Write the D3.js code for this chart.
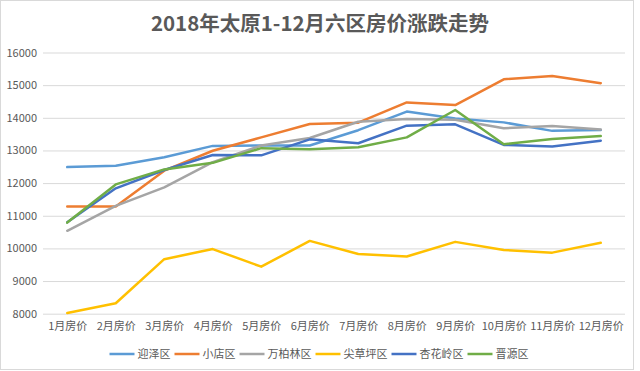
<!DOCTYPE html>
<html>
<head>
<meta charset="utf-8">
<script src="https://cdn.jsdelivr.net/npm/d3@7"></script>
<style>
  body { margin: 0; background: #fff; }
  text { font-family: "Noto Sans CJK SC", "Noto Sans", sans-serif; }
</style>
</head>
<body>
<div id="chart"></div>
<script>
// data
let months = ["1月房价", "2月房价", "3月房价", "4月房价", "5月房价", "6月房价",
              "7月房价", "8月房价", "9月房价", "10月房价", "11月房价", "12月房价"];
let districts = ["迎泽区", "小店区", "万柏林区", "尖草坪区", "杏花岭区", "晋源区"];
let yingze     = [12490, 12530, 12790, 13140, 13150, 13150, 13620, 14190, 13980, 13860, 13600, 13630];
let xiaodian   = [11280, 11280, 12380, 12990, 13400, 13810, 13850, 14470, 14390, 15180, 15280, 15060];
let wanbailin  = [10540, 11300, 11870, 12640, 13150, 13380, 13880, 13960, 13940, 13680, 13750, 13640];
let jiancaoping = [8020, 8320, 9670, 9980, 9440, 10230, 9830, 9750, 10200, 9950, 9870, 10170];
let xinghualing = [10800, 11840, 12400, 12860, 12850, 13340, 13220, 13760, 13800, 13170, 13120, 13300];
let jinyuan    = [10790, 11960, 12420, 12620, 13070, 13040, 13100, 13400, 14240, 13190, 13350, 13440];
let yTicks = [8000, 9000, 10000, 11000, 12000, 13000, 14000, 15000, 16000];

let seriesValues = [yingze, xiaodian, wanbailin, jiancaoping, xinghualing, jinyuan];
let color = ["#5B9BD5", "#ED7D31", "#A5A5A5", "#FFC000", "#4472C4", "#70AD47"];

let W = 640, H = 371;
let margin = {top: 52.5, right: 15, bottom: 57.3, left: 43},
    width = 625 - margin.left,
    height = H - margin.top - margin.bottom;

let svg = d3.select("#chart").append("svg")
    .attr("width", W)
    .attr("height", H);

// outer chart border
svg.append("rect")
    .attr("x", 0.5).attr("y", 0.5)
    .attr("width", 633).attr("height", 369)
    .attr("fill", "#fff")
    .attr("stroke", "#D9D9D9");

// title
svg.append("text")
    .attr("x", 320)
    .attr("y", 31)
    .attr("text-anchor", "middle")
    .attr("fill", "#595959")
    .style("font-size", "20.5px")
    .style("font-weight", "bold")
    .text("2018年太原1-12月六区房价涨跌走势");

let g = svg.append("g")
    .attr("transform", "translate(" + margin.left + "," + margin.top + ")");

let x = d3.scalePoint()
    .domain(months)
    .range([0, width])
    .padding(0.5);
let y = d3.scaleLinear()
    .domain([8000, 16000])
    .range([height, 0]);

// gridlines + y labels
let yAxis = g.append("g")
    .call(d3.axisLeft(y).tickValues(yTicks).tickSize(-width).tickPadding(6).tickFormat(d3.format("d")));
yAxis.select(".domain").remove();
yAxis.selectAll(".tick line").attr("stroke", "#D9D9D9");
yAxis.selectAll(".tick text")
    .attr("fill", "#595959")
    .style("font-size", "11px");

// x labels
let xAxis = g.append("g")
    .attr("transform", "translate(0," + height + ")")
    .call(d3.axisBottom(x).tickSize(0).tickPadding(9));
xAxis.select(".domain").remove();
xAxis.selectAll(".tick text")
    .attr("fill", "#595959")
    .style("font-size", "11px");

// lines
let line = d3.line()
    .x(function(d, i) { return x(months[i]); })
    .y(function(d) { return y(d); });

seriesValues.forEach(function(vals, k) {
    g.append("path")
        .datum(vals)
        .attr("fill", "none")
        .attr("stroke", color[k])
        .attr("stroke-width", 2.5)
        .attr("stroke-linejoin", "round")
        .attr("stroke-linecap", "round")
        .attr("d", line);
});

// legend
let legend = svg.append("g");
let cx = 0;
districts.forEach(function(name, k) {
    let item = legend.append("g").attr("transform", "translate(" + cx + ",0)");
    item.append("line")
        .attr("x1", 0).attr("x2", 25)
        .attr("y1", 0).attr("y2", 0)
        .attr("stroke", color[k])
        .attr("stroke-width", 2.5);
    let t = item.append("text")
        .attr("x", 28)
        .attr("y", 4)
        .attr("fill", "#595959")
        .style("font-size", "11px")
        .text(name);
    cx += 28 + t.node().getComputedTextLength() + 4;
});
legend.attr("transform", "translate(" + (319 - (cx - 4) / 2) + ",354)");
</script>
</body>
</html>
